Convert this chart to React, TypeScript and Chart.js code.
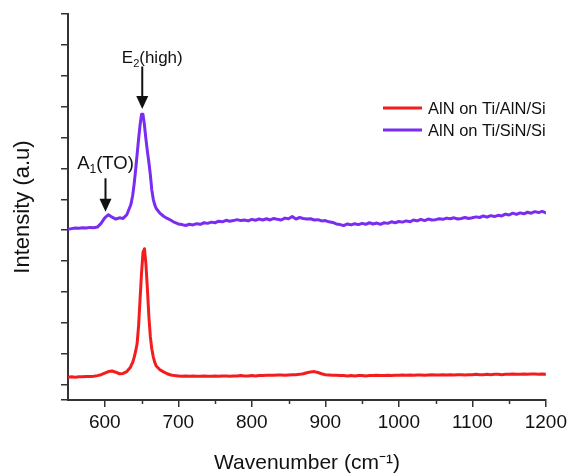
import React, { useEffect, useRef } from 'react';
import { Chart, registerables } from 'chart.js';

Chart.register(...registerables);

// ---------- data ----------
const wavenumbers = [
  550, 555, 560, 565, 570, 575, 580, 585, 590, 595, 600, 605, 610, 615, 620, 625, 630, 635,
  636, 638, 640, 642, 644, 646, 648, 650, 652, 654, 656, 658, 660, 662, 664, 666, 668, 670,
  675, 680, 685, 690, 695, 700, 705, 710, 715, 720,
  725, 730, 735, 740, 745, 750, 755, 760, 765, 770,
  775, 780, 785, 790, 795, 800, 805, 810, 815, 820,
  825, 830, 835, 840, 845, 850, 855, 860, 865, 870,
  875, 880, 885, 890, 895, 900, 905, 910, 915, 920,
  925, 930, 935, 940, 945, 950, 955, 960, 965, 970,
  975, 980, 985, 990, 995, 1000, 1005, 1010, 1015, 1020,
  1025, 1030, 1035, 1040, 1045, 1050, 1055, 1060, 1065, 1070,
  1075, 1080, 1085, 1090, 1095, 1100, 1105, 1110, 1115, 1120,
  1125, 1130, 1135, 1140, 1145, 1150, 1155, 1160, 1165, 1170,
  1175, 1180, 1185, 1190, 1195, 1200,
];

const redIntensity = [
  0.24, 0.25, 0.24, 0.25, 0.25, 0.26, 0.26, 0.27, 0.29, 0.32, 0.37, 0.42, 0.44, 0.40, 0.35, 0.36, 0.42, 0.56,
  0.62, 0.72, 0.88, 1.08, 1.32, 1.9, 2.75, 3.6, 4.28, 4.4, 3.9, 3.1, 2.2, 1.55, 1.15, 0.9, 0.72, 0.6,
  0.48, 0.41, 0.35, 0.31, 0.29, 0.28, 0.27, 0.28, 0.27, 0.28,
  0.27, 0.27, 0.28, 0.27, 0.27, 0.28, 0.27, 0.28, 0.28, 0.27,
  0.28, 0.28, 0.29, 0.28, 0.28, 0.29, 0.28, 0.29, 0.29, 0.30,
  0.30, 0.30, 0.31, 0.31, 0.30, 0.31, 0.32, 0.32, 0.33, 0.35,
  0.38, 0.41, 0.42, 0.39, 0.35, 0.32, 0.31, 0.30, 0.30, 0.29,
  0.29, 0.28, 0.29, 0.28, 0.29, 0.29, 0.28, 0.29, 0.29, 0.30,
  0.29, 0.29, 0.30, 0.29, 0.30, 0.30, 0.31, 0.30, 0.31, 0.30,
  0.31, 0.31, 0.30, 0.31, 0.32, 0.31, 0.31, 0.32, 0.31, 0.32,
  0.31, 0.32, 0.32, 0.31, 0.32, 0.32, 0.33, 0.32, 0.32, 0.33,
  0.32, 0.33, 0.33, 0.32, 0.33, 0.33, 0.34, 0.33, 0.33, 0.34,
  0.33, 0.34, 0.34, 0.33, 0.34, 0.33,
];

const purpleIntensity = [
  5.03, 5.05, 5.07, 5.06, 5.08, 5.07, 5.09, 5.08, 5.10, 5.22, 5.40, 5.50, 5.42, 5.36, 5.40, 5.38, 5.50, 5.80,
  5.88, 6.13, 6.5, 6.95, 7.45, 7.95, 8.4, 8.75, 8.75, 8.4, 7.95, 7.55, 7.2, 6.8, 6.3, 6.0, 5.82, 5.7,
  5.55, 5.45, 5.38, 5.32, 5.25, 5.20, 5.18, 5.15, 5.19, 5.17,
  5.21, 5.19, 5.24, 5.22, 5.26, 5.24, 5.29, 5.27, 5.32, 5.29,
  5.31, 5.34, 5.31, 5.33, 5.30, 5.35, 5.32, 5.36, 5.33, 5.37,
  5.33, 5.38, 5.35, 5.33, 5.39, 5.37, 5.44, 5.36, 5.41, 5.38,
  5.36, 5.37, 5.33, 5.34, 5.30, 5.31, 5.27, 5.25, 5.20, 5.18,
  5.15, 5.20, 5.17, 5.21, 5.18, 5.22, 5.19, 5.24, 5.20, 5.23,
  5.19, 5.24, 5.22, 5.27, 5.24, 5.28, 5.26, 5.30, 5.27, 5.33,
  5.30, 5.35, 5.31, 5.36, 5.33, 5.34, 5.37, 5.35, 5.39, 5.37,
  5.40, 5.36, 5.38, 5.41, 5.38, 5.40, 5.43, 5.41, 5.46, 5.42,
  5.47, 5.44, 5.48, 5.46, 5.52, 5.49, 5.55, 5.51, 5.56, 5.53,
  5.58, 5.55, 5.60, 5.57, 5.61, 5.56,
];

const seriesLabels = ['AlN on Ti/AlN/Si', 'AlN on Ti/SiN/Si'];
const seriesColors = ['#f41d1d', '#7b2cf2'];

const xMin = 550;
const xMax = 1200;
const xTickValues = [600, 700, 800, 900, 1000, 1100, 1200];
const xMinorTicks = [650, 750, 850, 950, 1050, 1150];
const yMin = -0.5;
const yMax = 12;

// peak annotations: [main, subscript, rest], x position, arrow top, arrow tip (data units)
const annotationMain = ['E', 'A'];
const annotationSub = ['2', '1'];
const annotationRest = ['(high)', '(TO)'];
const annotationX = [651, 601];
const annotationTop = [10.3, 6.68];
const annotationTip = [8.92, 5.6];
const annotationLabelShift = [10, 0];
const annotationGap = [3, 9];
const annotationFontSize = [17, 18.5];

const FONT = "'Liberation Sans', Arial, Helvetica, sans-serif";

const overlayPlugin = {
  id: 'overlay',
  afterDraw(chart: any) {
    const ctx = chart.ctx as CanvasRenderingContext2D;
    const xs = chart.scales.x;
    const ys = chart.scales.y;
    const area = chart.chartArea;
    ctx.save();

    // minor x ticks
    ctx.strokeStyle = '#333';
    ctx.lineWidth = 1.5;
    xMinorTicks.forEach((v) => {
      const px = Math.round(xs.getPixelForValue(v)) + 0.5;
      ctx.beginPath();
      ctx.moveTo(px, area.bottom);
      ctx.lineTo(px, area.bottom + 4);
      ctx.stroke();
    });

    // annotations
    for (let i = 0; i < annotationX.length; i++) {
      const ax = xs.getPixelForValue(annotationX[i]);
      const top = ys.getPixelForValue(annotationTop[i]);
      const tip = ys.getPixelForValue(annotationTip[i]);
      const headLen = 13;
      const headW = 6;
      ctx.strokeStyle = '#111';
      ctx.fillStyle = '#111';
      ctx.lineWidth = 2;
      ctx.beginPath();
      ctx.moveTo(ax, top);
      ctx.lineTo(ax, tip - headLen + 2);
      ctx.stroke();
      ctx.beginPath();
      ctx.moveTo(ax - headW, tip - headLen);
      ctx.lineTo(ax + headW, tip - headLen);
      ctx.lineTo(ax, tip);
      ctx.closePath();
      ctx.fill();

      const fs = annotationFontSize[i];
      const mainFont = `${fs}px ${FONT}`;
      const subFont = `${Math.round(fs * 0.65)}px ${FONT}`;
      ctx.font = mainFont;
      const w1 = ctx.measureText(annotationMain[i]).width;
      const w3 = ctx.measureText(annotationRest[i]).width;
      ctx.font = subFont;
      const w2 = ctx.measureText(annotationSub[i]).width;
      const total = w1 + w2 + w3;
      let tx = ax + annotationLabelShift[i] - total / 2;
      const baseline = top - annotationGap[i];
      ctx.textBaseline = 'alphabetic';
      ctx.textAlign = 'left';
      ctx.fillStyle = '#111';
      ctx.font = mainFont;
      ctx.fillText(annotationMain[i], tx, baseline);
      tx += w1;
      ctx.font = subFont;
      ctx.fillText(annotationSub[i], tx, baseline + 4);
      tx += w2;
      ctx.font = mainFont;
      ctx.fillText(annotationRest[i], tx, baseline);
    }

    // legend
    const legendX = 383;
    const legendY = [108, 130];
    ctx.font = `16.5px ${FONT}`;
    ctx.textBaseline = 'middle';
    ctx.textAlign = 'left';
    chart.data.datasets.forEach((ds: any, i: number) => {
      ctx.strokeStyle = ds.borderColor;
      ctx.lineWidth = 3;
      ctx.beginPath();
      ctx.moveTo(legendX, legendY[i]);
      ctx.lineTo(legendX + 39, legendY[i]);
      ctx.stroke();
      ctx.fillStyle = '#111';
      ctx.fillText(ds.label, legendX + 45, legendY[i] + 1);
    });

    ctx.restore();
  },
};

export default function App() {
  const canvasRef = useRef<HTMLCanvasElement | null>(null);

  useEffect(() => {
    const canvas = canvasRef.current;
    if (!canvas) return;
    const lineStyle = {
      borderWidth: 3,
      pointRadius: 0,
      tension: 0,
      borderJoinStyle: 'round' as const,
      borderCapStyle: 'round' as const,
    };
    const chart = new Chart(canvas, {
      type: 'line',
      data: {
        datasets: [
          {
            label: seriesLabels[0],
            data: wavenumbers.map((x, i) => ({ x, y: redIntensity[i] })),
            borderColor: seriesColors[0],
            backgroundColor: seriesColors[0],
            ...lineStyle,
          },
          {
            label: seriesLabels[1],
            data: wavenumbers.map((x, i) => ({ x, y: purpleIntensity[i] })),
            borderColor: seriesColors[1],
            backgroundColor: seriesColors[1],
            ...lineStyle,
          },
        ],
      },
      options: {
        animation: false,
        responsive: true,
        maintainAspectRatio: false,
        layout: { padding: { left: 0, right: 23, top: 14, bottom: 0 } },
        plugins: {
          legend: { display: false },
          tooltip: { enabled: false },
        },
        scales: {
          x: {
            type: 'linear',
            min: xMin,
            max: xMax,
            afterBuildTicks: (s: any) => {
              s.ticks = xTickValues.map((v) => ({ value: v }));
            },
            afterFit: (s: any) => {
              s.height = 74;
            },
            grid: {
              display: true,
              drawOnChartArea: false,
              drawTicks: true,
              tickLength: 7,
              color: '#333',
              lineWidth: 1.5,
            },
            border: { display: true, color: '#333', width: 2 },
            ticks: {
              padding: 4,
              color: '#111',
              autoSkip: false,
              font: { family: FONT, size: 19 },
              maxRotation: 0,
              callback: (v: any) => String(v),
            },
            title: {
              display: true,
              text: 'Wavenumber (cm⁻¹)',
              color: '#111',
              font: { family: FONT, size: 21, lineHeight: 1 },
              padding: { top: 0, bottom: 0 },
            },
          },
          y: {
            type: 'linear',
            min: yMin,
            max: yMax,
            afterFit: (s: any) => {
              s.width = 68;
            },
            grid: {
              display: true,
              drawOnChartArea: false,
              drawTicks: true,
              tickLength: 7,
              color: '#333',
              lineWidth: 1.5,
            },
            border: { display: true, color: '#333', width: 2 },
            ticks: {
              stepSize: 1,
              callback: () => '',
            },
            title: {
              display: true,
              text: 'Intensity (a.u)',
              color: '#111',
              font: { family: FONT, size: 22 },
              padding: { top: 10, bottom: 0 },
            },
          },
        },
      },
      plugins: [overlayPlugin],
    });
    return () => chart.destroy();
  }, []);

  return (
    <div style={{ position: 'fixed', left: 0, top: 0, width: 571, height: 474, background: '#fff' }}>
      <canvas ref={canvasRef} />
    </div>
  );
}
